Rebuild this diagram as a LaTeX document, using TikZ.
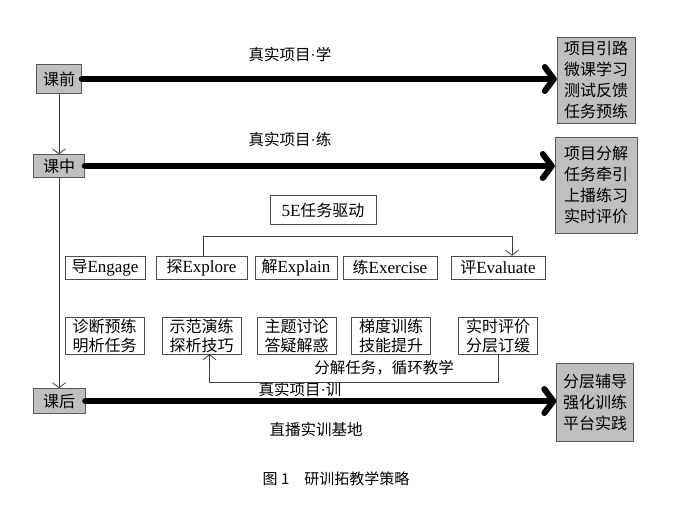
\documentclass[tikz,border=0pt]{standalone}
\usepackage{fontspec}
\setmainfont{Liberation Serif}
\newfontfamily\cjk{Noto Sans CJK SC}
\usetikzlibrary{arrows.meta}
\newcommand{\mdot}{{\rmfamily\textperiodcentered}}
\newcommand{\lat}[1]{{\rmfamily\fontsize{17}{19}\selectfont #1}}
\tikzset{
  stage/.style={draw=black!65, fill=black!25, font=\cjk\fontsize{16}{19}\selectfont, inner sep=1pt},
  goal/.style={draw=black!65, fill=black!25, font=\cjk\fontsize{16}{21}\selectfont, align=center, inner sep=1pt},
  phase/.style={draw=black!70, font=\cjk\fontsize{16}{19}\selectfont, minimum height=23, inner sep=1pt},
  task/.style={draw=black!70, font=\cjk\fontsize{16}{19}\selectfont, align=center, minimum height=37, inner sep=0.5pt},
  note/.style={font=\cjk\fontsize{15.5}{18}\selectfont},
  link/.style={draw=black!75, line width=0.8pt, -{Straight Barb[length=5pt,width=13pt]}},
  track/.style={line width=6pt, line cap=round, -{Straight Barb[length=9pt,width=24pt,round]}}
}
\begin{document}
\begin{tikzpicture}[x=1pt, y=-1pt]
  \useasboundingbox (0,0) rectangle (700,506);
  \node[stage, minimum width=45, minimum height=29] (pre) at (59,79) {课前};
  \node[stage, minimum width=51, minimum height=23] (mid) at (59,166) {课中};
  \node[stage, minimum width=52, minimum height=25] (post) at (59,401) {课后};
  \node[goal, minimum width=78, minimum height=86] (g1) at (596,80) {项目引路\\微课学习\\测试反馈\\任务预练};
  \node[goal, minimum width=82, minimum height=96] (g2) at (596,185) {项目分解\\任务牵引\\上播练习\\实时评价};
  \node[goal, minimum width=77, minimum height=78] (g3) at (595,402) {分层辅导\\强化训练\\平台实践};
  \draw[track] (pre.east) -- (pre.east -| g1.west);
  \draw[track] (mid.east) -- (mid.east -| g2.west);
  \draw[track] (post.east) -- (post.east -| g3.west);
  \draw[link] (pre) -- (mid);
  \draw[link] (mid) -- (post);
  \node[note] (learn) at (290,55) {真实项目\mdot 学};
  \node[note] (drill) at (290,140) {真实项目\mdot 练};
  \node[note] (train) at (300,390) {真实项目\mdot 训};
  \node[note] (base) at (316,430) {直播实训基地};
  \node[draw=black!70, font=\cjk\fontsize{16}{19}\selectfont, minimum width=106, minimum height=29, inner sep=1pt] (drive) at (323,210) {\lat{5E}任务驱动};
  \foreach \n/\x/\w/\t in {e1/105/80/{导\lat{Engage}}, e2/201.5/91/{探\lat{Explore}},
      e3/296/82/{解\lat{Explain}}, e4/390/94/{练\lat{Exercise}}, e5/498/94/{评\lat{Evaluate}}}
    \node[phase, minimum width=\w] (\n) at (\x,267.5) {\t};
  \foreach \n/\x/\t in {t1/104.5/{诊断预练\\明析任务}, t2/201.5/{示范演练\\探析技巧}, t3/296.5/{主题讨论\\答疑解惑},
      t4/391/{梯度训练\\技能提升}, t5/498/{实时评价\\分层订缓}}
    \node[task, minimum width=79] (\n) at (\x,335.5) {\t};
  \draw[link] ([xshift=2pt]e2.north) -- ++(0,-19) -| ([xshift=14pt]e5.north);
  \draw[link] (t5.south) -- ++(0,28) -| ([xshift=8pt]t2.south);
  \node[note] (loop) at (384,368) {分解任务，循环教学};
  \node[font=\cjk\fontsize{15}{18}\selectfont] (cap) at (336,479) {图 1\quad 研训拓教学策略};
\end{tikzpicture}
\end{document}
